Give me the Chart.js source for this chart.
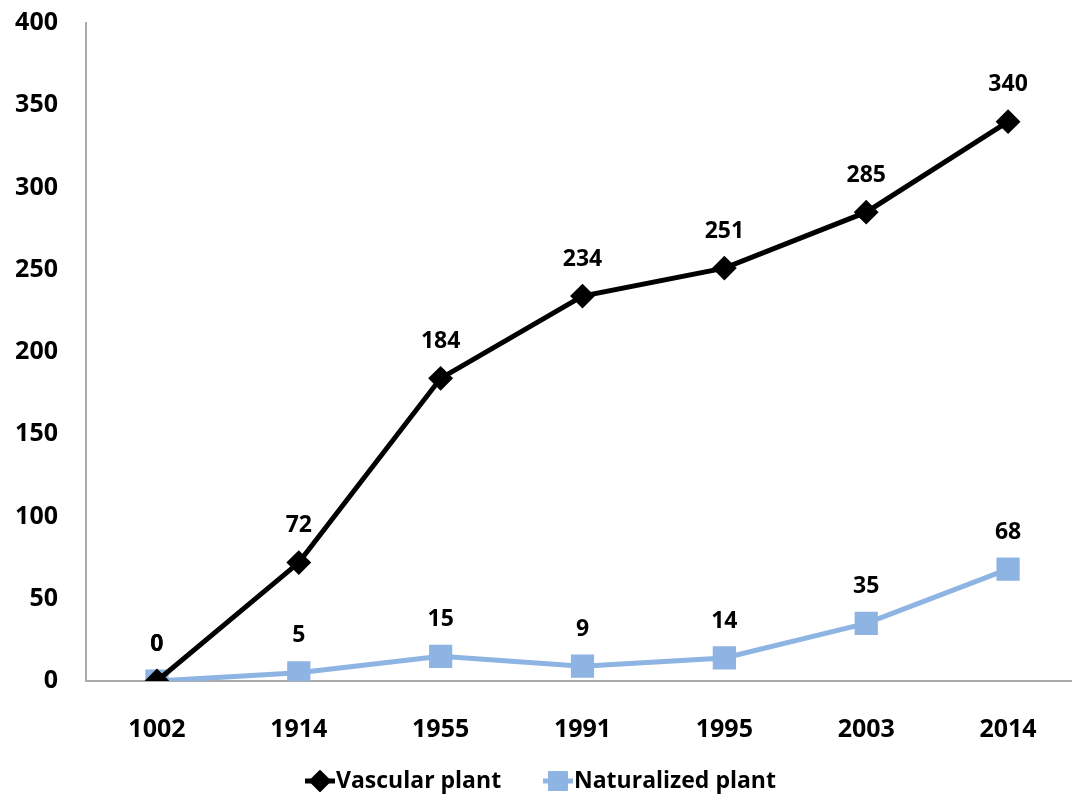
<!DOCTYPE html>
<html>
<head>
<meta charset="utf-8">
<script src="https://cdn.jsdelivr.net/npm/chart.js@4/dist/chart.umd.min.js"></script>
<style>
  html, body { margin: 0; padding: 0; background: #fff; overflow: hidden; }
  canvas { display: block; }
</style>
</head>
<body>
<canvas id="line-chart" width="1080" height="802"></canvas>
<script>
// plant counts by survey year
var years = ['1002', '1914', '1955', '1991', '1995', '2003', '2014'];
var vascular = [0, 72, 184, 234, 251, 285, 340];
var naturalized = [0, 5, 15, 9, 14, 35, 68];
var yTicks = [0, 50, 100, 150, 200, 250, 300, 350, 400];

var FONT = '"Open Sans", "DejaVu Sans", sans-serif';

// value labels above each point
var valueLabels = {
    id: 'valueLabels',
    afterDatasetsDraw: function (chart) {
        var ctx = chart.ctx;
        ctx.save();
        ctx.font = 'bold 23px ' + FONT;
        ctx.fillStyle = '#000';
        ctx.textAlign = 'center';
        ctx.textBaseline = 'middle';
        chart.data.datasets.forEach(function (ds, i) {
            var meta = chart.getDatasetMeta(i);
            meta.data.forEach(function (pt, j) {
                ctx.fillText(ds.data[j], pt.x, pt.y - 37);
            });
        });
        ctx.restore();
    }
};

// legend at the bottom: marker with a short line through it, then the name
var bottomLegend = {
    id: 'bottomLegend',
    afterDraw: function (chart) {
        var ctx = chart.ctx;
        var y = 781;
        var starts = [305, 543];
        ctx.save();
        ctx.font = 'bold 23px ' + FONT;
        ctx.textBaseline = 'middle';
        chart.data.datasets.forEach(function (ds, i) {
            var x = starts[i];
            ctx.strokeStyle = ds.borderColor;
            ctx.lineWidth = 5;
            ctx.beginPath();
            ctx.moveTo(x, y);
            ctx.lineTo(x + 30, y);
            ctx.stroke();
            ctx.fillStyle = ds.pointBackgroundColor;
            ctx.strokeStyle = ds.pointBorderColor;
            ctx.lineWidth = 2;
            ctx.lineJoin = 'round';
            ctx.beginPath();
            if (i === 0) {
                ctx.moveTo(x + 15, y - 10); ctx.lineTo(x + 25, y); ctx.lineTo(x + 15, y + 10); ctx.lineTo(x + 5, y);
            } else {
                ctx.rect(x + 6, y - 9, 18, 18);
            }
            ctx.closePath();
            ctx.fill();
            ctx.stroke();
            ctx.fillStyle = '#000';
            ctx.fillText(ds.label, x + 31, y);
        });
        ctx.restore();
    }
};

// drop the automatic label padding so the plot area follows layout.padding
function noAutoPadding(scale) {
    scale.paddingTop = 0;
    scale.paddingBottom = 0;
    scale.paddingLeft = 0;
    scale.paddingRight = 0;
}

var ctx = document.getElementById('line-chart').getContext('2d');
var myChart = new Chart(ctx, {
    type: 'line',
    data: {
        labels: years,
        datasets: [{
            label: 'Vascular plant',
            data: vascular,
            borderColor: '#000000',
            borderWidth: 5,
            pointStyle: 'rectRot',
            pointRadius: 11,
            pointBackgroundColor: '#000000',
            pointBorderColor: '#000000',
            pointBorderWidth: 2,
            tension: 0
        }, {
            label: 'Naturalized plant',
            data: naturalized,
            borderColor: '#8db4e2',
            borderWidth: 5,
            pointStyle: 'rect',
            pointRadius: 15,
            pointBackgroundColor: '#8db4e2',
            pointBorderColor: '#8db4e2',
            pointBorderWidth: 2,
            tension: 0
        }]
    },
    options: {
        responsive: false,
        animation: false,
        layout: { autoPadding: false, padding: { top: 23, right: 1, bottom: 0, left: 0 } },
        plugins: {
            legend: { display: false },
            tooltip: { enabled: false }
        },
        scales: {
            x: {
                offset: true,
                grid: { display: false },
                border: { display: true, color: '#ababab', width: 2 },
                ticks: {
                    color: '#000',
                    font: { family: FONT, size: 25, weight: 'bold' },
                    padding: 26,
                    maxRotation: 0
                },
                afterFit: function (scale) {
                    scale.height = 121;
                    noAutoPadding(scale);
                }
            },
            y: {
                min: 0,
                max: 400,
                grid: { display: false },
                border: { display: true, color: '#ababab', width: 2 },
                afterBuildTicks: function (scale) {
                    scale.ticks = yTicks.map(function (v) { return { value: v }; });
                },
                ticks: {
                    color: '#000',
                    font: { family: FONT, size: 25, weight: 'bold' },
                    padding: 20
                },
                afterFit: function (scale) {
                    scale.width = 86;
                    noAutoPadding(scale);
                }
            }
        }
    },
    plugins: [valueLabels, bottomLegend]
});
</script>
</body>
</html>
